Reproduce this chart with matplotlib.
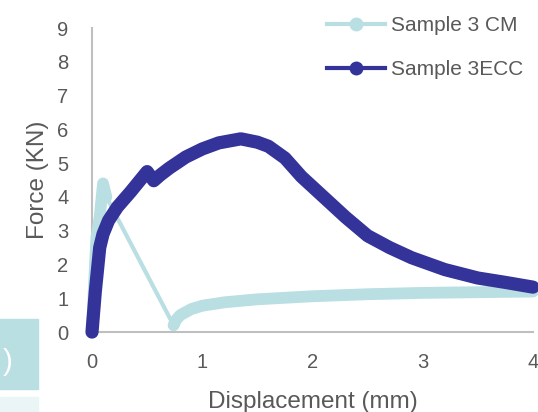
import matplotlib
matplotlib.use('Agg')
import matplotlib.pyplot as plt
from matplotlib.lines import Line2D
from matplotlib.patches import Rectangle

plt.rcParams['font.family'] = ['Liberation Sans', 'DejaVu Sans']

# Sample 3 CM  (light teal)
cm_x = [0, 0.02, 0.04, 0.07, 0.10, 0.13, 0.74, 0.76, 0.80, 0.90, 1.0, 1.2,
        1.5, 2.0, 2.5, 3.0, 3.5, 4.0]
cm_y = [0, 1.5, 2.8, 3.4, 4.4, 4.0, 0.2, 0.35, 0.5, 0.68, 0.78, 0.88,
        0.97, 1.06, 1.12, 1.16, 1.18, 1.2]

# Sample 3ECC (dark blue)
ecc_x = [0, 0.03, 0.07, 0.10, 0.15, 0.23, 0.35, 0.50, 0.56, 0.62, 0.70, 0.85,
         1.0, 1.15, 1.35, 1.50, 1.60, 1.75, 1.90, 2.10, 2.30, 2.50, 2.70,
         2.90, 3.20, 3.50, 3.75, 4.0]
ecc_y = [0, 1.2, 2.5, 2.9, 3.3, 3.7, 4.15, 4.75, 4.48, 4.65, 4.85, 5.18,
         5.42, 5.6, 5.72, 5.62, 5.5, 5.15, 4.6, 4.0, 3.4, 2.85, 2.5,
         2.2, 1.85, 1.6, 1.47, 1.33]

labels = ['Sample 3 CM', 'Sample 3ECC']
c_cm = '#b9dfe3'
c_ecc = '#333399'
grey = '#595959'

fig = plt.figure(figsize=(5.38, 4.12), dpi=100)
ax = fig.add_axes([0.171, 0.194, 0.8197, 0.738])

# thin connecting line, then thick dense parts
ax.plot(cm_x, cm_y, color=c_cm, lw=3, solid_capstyle='round', clip_on=False)
ax.plot(cm_x[:6], cm_y[:6], color=c_cm, lw=8.5, solid_capstyle='round',
        solid_joinstyle='round', clip_on=False)
ax.plot(cm_x[6:], cm_y[6:], color=c_cm, lw=8.5, solid_capstyle='round',
        solid_joinstyle='round', clip_on=False)
ax.plot(ecc_x, ecc_y, color=c_ecc, lw=9.5, solid_capstyle='round',
        solid_joinstyle='round', clip_on=False)

ax.set_xlim(0, 4)
ax.set_ylim(0, 9)
ax.set_xticks([0, 1, 2, 3, 4])
ax.set_yticks(range(10))
ax.tick_params(length=0, labelsize=14.5, labelcolor=grey)
ax.tick_params(axis='y', pad=17)
ax.tick_params(axis='x', pad=15)
for s in ['top', 'right']:
    ax.spines[s].set_visible(False)
for s in ['left', 'bottom']:
    ax.spines[s].set_color('#bfbfbf')
    ax.spines[s].set_linewidth(1.5)
    ax.spines[s].set_zorder(0)
ax.set_xlabel('Displacement (mm)', fontsize=17.5, color=grey, labelpad=14)
ax.set_ylabel('Force (KN)', fontsize=17.5, color=grey, labelpad=6)

handles = [Line2D([], [], color=c_cm, lw=3, marker='o', ms=9),
           Line2D([], [], color=c_ecc, lw=3, marker='o', ms=9)]
leg = ax.legend(handles, labels, loc='upper right', bbox_to_anchor=(1.02, 1.1),
                frameon=False, fontsize=15, labelcolor=grey,
                handlelength=2.75, handletextpad=0.3, labelspacing=1.2)

# remnants of a neighbouring element at the bottom-left
fig.patches.append(Rectangle((0, 23 / 412), 38 / 538, 70 / 412,
                             transform=fig.transFigure, color=c_cm, zorder=0))
fig.patches.append(Rectangle((0, 0), 38 / 538, 15 / 412,
                             transform=fig.transFigure, color='#eaf5f6', zorder=0))
fig.text(3 / 538, 1 - 362 / 412, ')', ha='left', va='center',
         fontsize=21, color='white')

fig.savefig('out.png', dpi=100)
